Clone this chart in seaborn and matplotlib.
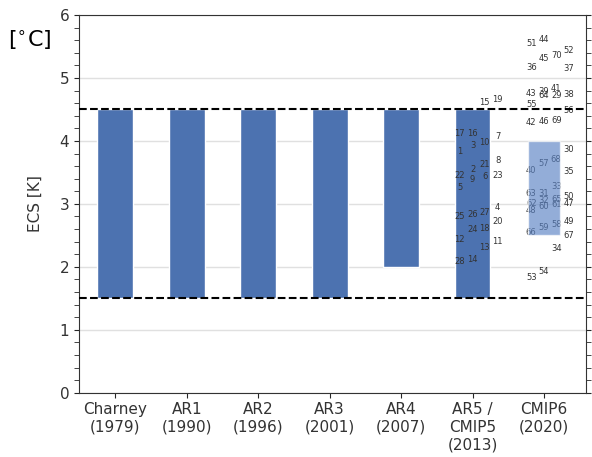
import numpy as np
import pandas as pd
import matplotlib
matplotlib.use('Agg')
import matplotlib.pyplot as plt
import seaborn as sns

# Assessed likely ranges of ECS
categories = ['Charney\n(1979)', 'AR1\n(1990)', 'AR2\n(1996)', 'AR3\n(2001)',
              'AR4\n(2007)', 'AR5 /\nCMIP5\n(2013)', 'CMIP6\n(2020)']
range_low = [1.5, 1.5, 1.5, 1.5, 2.0, 1.5]
range_high = [4.5, 4.5, 4.5, 4.5, 4.5, 4.5]
cmip6_low = 2.5
cmip6_high = 4.0

# model ECS values, labelled by model number
cmip5_ids = [28, 14, 13, 11, 12, 24, 18, 20, 25, 26, 27, 4, 5, 9, 6, 23, 22, 2,
             21, 8, 1, 3, 10, 7, 17, 16, 15, 19]
cmip5_ecs = [2.087, 2.119, 2.310, 2.399, 2.437, 2.600, 2.605, 2.728, 2.807, 2.834,
             2.866, 2.945, 3.263, 3.395, 3.431, 3.447, 3.458, 3.549, 3.633, 3.685,
             3.835, 3.930, 3.971, 4.078, 4.120, 4.125, 4.607, 4.661]
cmip6_ids = [53, 54, 34, 67, 66, 59, 58, 49, 48, 60, 61, 47, 62, 32, 65, 50, 63, 31,
             33, 35, 40, 57, 68, 30, 42, 46, 69, 56, 55, 64, 29, 38, 43, 39, 41, 37,
             36, 45, 70, 52, 51, 44]
cmip6_ecs = [1.833, 1.933, 2.294, 2.494, 2.542, 2.624, 2.680, 2.716, 2.894, 2.966,
             2.990, 3.000, 3.010, 3.060, 3.065, 3.125, 3.164, 3.172, 3.279, 3.520,
             3.525, 3.644, 3.712, 3.867, 4.300, 4.305, 4.321, 4.491, 4.586, 4.715,
             4.720, 4.745, 4.753, 4.785, 4.832, 5.153, 5.163, 5.312, 5.353, 5.439,
             5.550, 5.619]

blue = '#4C72B0'
sns.set_style('ticks')
plt.rcParams['font.family'] = ['DejaVu Sans']

fig = plt.figure(figsize=(5.92, 4.57), dpi=100)
ax = fig.add_axes([0.1334, 0.1407, 0.8566, 0.8263])

df = pd.DataFrame({'period': categories[:6], 'low': range_low, 'high': range_high})
df['span'] = df['high'] - df['low']
sns.barplot(data=df, x='period', y='span', order=categories, bottom=df['low'].values,
            color=blue, saturation=1, width=0.5, errorbar=None, ax=ax, zorder=2)

df6 = pd.DataFrame({'period': [categories[6]], 'span': [cmip6_high - cmip6_low]})
sns.barplot(data=df6, x='period', y='span', order=categories, bottom=[cmip6_low],
            color='#5a82c4', saturation=1, width=0.45, errorbar=None, alpha=0.65,
            ax=ax, zorder=4)

# model numbers, spread over four columns in order of ECS
offsets = [-0.18, 0.0, 0.17, 0.35]
for pos, ids, ecs in [(5, cmip5_ids, cmip5_ecs), (6, cmip6_ids, cmip6_ecs)]:
    order = np.argsort(ecs, kind='stable')
    for rank, k in enumerate(order):
        ax.text(pos + offsets[rank % 4], ecs[k], str(ids[k]), ha='center',
                va='center', fontsize=6, color='#333333', zorder=3)

ax.axhline(1.5, color='black', ls='--', lw=1.5, zorder=5)
ax.axhline(4.5, color='black', ls='--', lw=1.5, zorder=5)

ax.set_xlim(-0.508, 6.588)
ax.set_ylim(0, 6)
ax.set_yticks(np.arange(0, 7, 1))
ax.set_yticks(np.arange(0, 6.01, 0.2), minor=True)
ax.set_xticks(range(len(categories)))
ax.set_xticklabels(categories, fontsize=11, color='#333333')
ax.tick_params(axis='y', which='both', right=True, labelsize=11, labelcolor='#333333')
ax.tick_params(axis='y', which='minor', length=3.5)
ax.grid(axis='y', which='major', color='#e0e0e0', lw=1, zorder=0)
ax.set_axisbelow(True)
ax.set_xlabel('')
ax.set_ylabel('ECS [K]', fontsize=11, color='#333333', labelpad=12)
for s in ax.spines.values():
    s.set_color('#333333')

fig.text(0.05, 0.912, '[$^{\\circ}$C]', fontsize=16, color='black',
         ha='center', va='center')

fig.savefig('out.png', dpi=100)
